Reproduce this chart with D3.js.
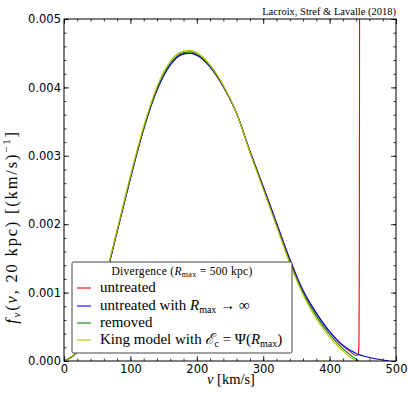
<!DOCTYPE html>
<html>
<head>
<meta charset="utf-8">
<script src="https://cdn.jsdelivr.net/npm/d3@7"></script>
<style>
body { margin: 0; background: #fff; }
svg { display: block; }
.tick text { font-family: "DejaVu Sans", sans-serif; font-size: 11.5px; fill: #000; }
.serif { font-family: "Liberation Serif", "DejaVu Serif", serif; fill: #000; }
</style>
</head>
<body>
<svg id="chart" width="408" height="394"></svg>
<script>
// speed grid in km/s
var vGrid = [0, 20, 40, 60, 80, 100, 120, 140, 160, 180, 190, 200, 220, 240, 260,
             280, 300, 320, 340, 360, 380, 400, 420, 440, 460, 480, 490];

// untreated with Rmax -> infinity (blue)
var fInfinite = [0, 0.00014, 0.00053, 0.00113, 0.00189, 0.00267, 0.00339, 0.00396, 0.00433,
                 0.00449, 0.00450, 0.00447, 0.00430, 0.00401, 0.00362, 0.00307, 0.00255,
                 0.00202, 0.00149, 0.00103, 0.00070, 0.00043, 0.00023, 0.00011, 0.00005,
                 0.000015, 0];

// untreated (red), diverges at the escape speed
var vUntreated = [0, 20, 40, 60, 80, 100, 120, 140, 160, 180, 190, 200, 220, 240, 260,
                  280, 300, 320, 340, 360, 380, 400, 420, 432, 440, 443, 444.2, 444.8, 445.2];
var fUntreated = [0, 0.00014, 0.00053, 0.00113, 0.00189, 0.00267, 0.00339, 0.00396, 0.00433,
                  0.00449, 0.00450, 0.00447, 0.00430, 0.00401, 0.00362, 0.00307, 0.00255,
                  0.00202, 0.00149, 0.00103, 0.00070, 0.00043, 0.00022, 0.00013, 0.00008,
                  0.00009, 0.00025, 0.0015, 0.0060];

// removed (green)
var vRemoved = [0, 20, 40, 60, 80, 100, 120, 140, 160, 180, 190, 200, 220, 240, 260,
                280, 300, 320, 340, 360, 380, 400, 420, 435, 444];
var fRemoved = [0, 0.00014, 0.00054, 0.00114, 0.00190, 0.00268, 0.00340, 0.00398, 0.00435,
                0.00451, 0.00452, 0.00449, 0.00431, 0.00402, 0.00362, 0.00306, 0.00253,
                0.00199, 0.00146, 0.00100, 0.00066, 0.00039, 0.00018, 0.00006, 0];

// King model (yellow)
var vKing = [0, 20, 40, 60, 80, 100, 120, 140, 160, 180, 190, 200, 220, 240, 260,
             280, 300, 320, 340, 360, 380, 400, 420, 432, 441];
var fKing = [0, 0.00015, 0.00055, 0.00116, 0.00192, 0.00271, 0.00343, 0.00401, 0.00438,
             0.00453, 0.00454, 0.00451, 0.00433, 0.00403, 0.00362, 0.00305, 0.00251,
             0.00197, 0.00143, 0.00097, 0.00062, 0.00035, 0.00015, 0.00005, 0];

var xMajor = [0, 100, 200, 300, 400, 500];
var xMinor = d3.range(0, 501, 20);
var yMajor = [0, 0.001, 0.002, 0.003, 0.004, 0.005];
var yMinor = d3.range(0, 0.00501, 0.0002);

var series = [
  {name: "untreated", v: vUntreated, f: fUntreated, color: "#ff0000"},
  {name: "infinite", v: vGrid, f: fInfinite, color: "#0000ff"},
  {name: "removed", v: vRemoved, f: fRemoved, color: "#008000"},
  {name: "king", v: vKing, f: fKing, color: "#bfbf00"}
];

var svg = d3.select("#chart");
var pLeft = 64, pRight = 396, pTop = 19, pBottom = 361;

var xs = d3.scaleLinear().domain([0, 500]).range([pLeft, pRight]);
var ys = d3.scaleLinear().domain([0, 0.005]).range([pBottom, pTop]);

svg.append("clipPath").attr("id", "clip")
  .append("rect")
    .attr("x", pLeft).attr("y", pTop)
    .attr("width", pRight - pLeft).attr("height", pBottom - pTop);

var line = d3.line()
  .x(function(d) { return xs(d[0]); })
  .y(function(d) { return ys(d[1]); })
  .curve(d3.curveMonotoneX);

var curves = svg.append("g").attr("clip-path", "url(#clip)");
series.forEach(function(s) {
  curves.append("path")
    .datum(d3.zip(s.v, s.f))
    .attr("d", line)
    .attr("fill", "none")
    .attr("stroke", s.color)
    .attr("stroke-width", 1.1);
});

// ticks on all four sides, pointing inward
function ticks(axis, pos, values, size, labels) {
  var a = axis.tickValues(values).tickSizeInner(-size).tickSizeOuter(0);
  if (!labels) a.tickFormat("");
  var g = svg.append("g").attr("transform", pos).call(a);
  g.select(".domain").remove();
  g.selectAll(".tick line").attr("stroke", "#000").attr("stroke-width", 0.8);
  return g;
}
ticks(d3.axisBottom(xs).tickPadding(4), "translate(0," + pBottom + ")", xMajor, 5, true);
ticks(d3.axisBottom(xs), "translate(0," + pBottom + ")", xMinor, 2.5, false);
ticks(d3.axisTop(xs), "translate(0," + pTop + ")", xMajor, 5, false);
ticks(d3.axisTop(xs), "translate(0," + pTop + ")", xMinor, 2.5, false);
ticks(d3.axisLeft(ys).tickPadding(3).tickFormat(d3.format(".3f")), "translate(" + pLeft + ",0)", yMajor, 5, true);
ticks(d3.axisLeft(ys), "translate(" + pLeft + ",0)", yMinor, 2.5, false);
ticks(d3.axisRight(ys), "translate(" + pRight + ",0)", yMajor, 5, false);
ticks(d3.axisRight(ys), "translate(" + pRight + ",0)", yMinor, 2.5, false);

svg.append("rect")
  .attr("x", pLeft).attr("y", pTop)
  .attr("width", pRight - pLeft).attr("height", pBottom - pTop)
  .attr("fill", "none").attr("stroke", "#000").attr("stroke-width", 1);

// credit
svg.append("text").attr("class", "serif")
  .attr("x", pRight).attr("y", 15)
  .attr("text-anchor", "end")
  .style("font-size", "10.5px")
  .text("Lacroix, Stref & Lavalle (2018)");

// x label
var xl = svg.append("text").attr("class", "serif")
  .attr("x", 231).attr("y", 384)
  .attr("text-anchor", "middle")
  .style("font-size", "14.5px");
xl.append("tspan").style("font-style", "italic").text("v");
xl.append("tspan").text(" [km/s]");

// y label
var yl = svg.append("text").attr("class", "serif")
  .attr("transform", "translate(17,227) rotate(-90)")
  .attr("text-anchor", "middle")
  .style("font-size", "16.5px")
  .style("letter-spacing", "1.8px");
yl.append("tspan").style("font-style", "italic").text("f");
yl.append("tspan").style("font-style", "italic").style("font-size", "11px").attr("dy", 3).text("v");
yl.append("tspan").attr("dy", -3).text("(");
yl.append("tspan").style("font-style", "italic").text("v");
yl.append("tspan").text(", 20 kpc) [(km/s)");
yl.append("tspan").style("font-size", "11px").attr("dy", -7).text("\u22121");
yl.append("tspan").attr("dy", 7).text("]");

// legend
var lg = svg.append("g");
lg.append("rect")
  .attr("x", 72).attr("y", 262).attr("width", 220).attr("height", 91)
  .attr("rx", 1.5)
  .attr("fill", "#fff").attr("stroke", "#444").attr("stroke-width", 1);

var lt = lg.append("text").attr("class", "serif")
  .attr("x", 182).attr("y", 275)
  .attr("text-anchor", "middle")
  .style("font-size", "11.5px")
  .style("letter-spacing", "0.3px");
lt.append("tspan").text("Divergence (");
lt.append("tspan").style("font-style", "italic").text("R");
lt.append("tspan").style("font-size", "8px").attr("dy", 2).text("max");
lt.append("tspan").attr("dy", -2).text(" = 500 kpc)");

var rowY = [292, 310, 327, 344];
series.forEach(function(s, i) {
  lg.append("line")
    .attr("x1", 77).attr("x2", 91)
    .attr("y1", rowY[i] - 4).attr("y2", rowY[i] - 4)
    .attr("stroke", s.color).attr("stroke-width", 1.1);
});

function entry(y) {
  return lg.append("text").attr("class", "serif")
    .attr("x", 100).attr("y", y)
    .style("font-size", "15px");
}
entry(rowY[0]).text("untreated");
var e1 = entry(rowY[1]);
e1.append("tspan").text("untreated with ");
e1.append("tspan").style("font-style", "italic").text("R");
e1.append("tspan").style("font-size", "10px").attr("dy", 3).text("max");
e1.append("tspan").attr("dy", -3).text(" \u2192 \u221e");
entry(rowY[2]).text("removed");
var e3 = entry(rowY[3]);
e3.append("tspan").text("King model with ");
e3.append("tspan").style("font-style", "italic").text("\u2130");
e3.append("tspan").style("font-size", "10px").attr("dy", 3).text("c");
e3.append("tspan").attr("dy", -3).text(" = \u03a8(");
e3.append("tspan").style("font-style", "italic").text("R");
e3.append("tspan").style("font-size", "10px").attr("dy", 3).text("max");
e3.append("tspan").attr("dy", -3).text(")");
</script>
</body>
</html>
